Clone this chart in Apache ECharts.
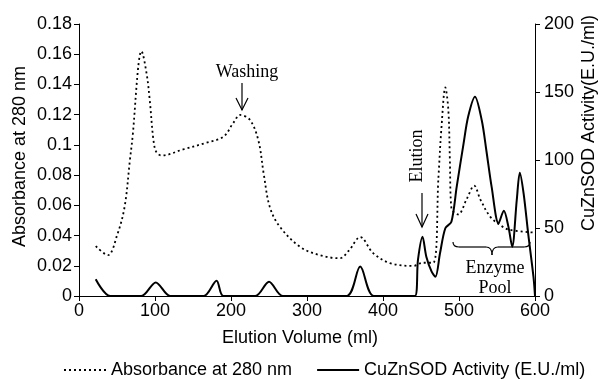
<!DOCTYPE html>
<html>
<head>
<meta charset="utf-8">
<script src="https://cdn.jsdelivr.net/npm/echarts@6/dist/echarts.min.js"></script>
<style>
  html, body { margin: 0; padding: 0; background: #fff; }
  #chart { width: 600px; height: 379px; }
</style>
</head>
<body>
<div id="chart"></div>
<script>
// absorbance at 280 nm (left axis)
const absVolume = [22, 38, 50, 60, 67, 71, 78, 82, 89, 93, 98, 102, 109, 137, 168, 190, 203, 212, 225, 236, 243, 251, 264, 291, 317, 343, 355, 370, 387, 409, 440, 452, 466, 473, 477, 482, 486, 488, 490, 499, 510, 520, 528, 541, 554, 565, 598];
const absValue = [0.033, 0.027, 0.040, 0.059, 0.090, 0.108, 0.152, 0.162, 0.147, 0.130, 0.103, 0.095, 0.093, 0.097, 0.1015, 0.1054, 0.1145, 0.1198, 0.1165, 0.103, 0.081, 0.059, 0.046, 0.0325, 0.027, 0.025, 0.030, 0.039, 0.0284, 0.0218, 0.0199, 0.022, 0.022, 0.079, 0.112, 0.138, 0.123, 0.090, 0.058, 0.054, 0.064, 0.073, 0.064, 0.0525, 0.047, 0.044, 0.042];

// CuZnSOD activity (right axis)
const actVolume = [22, 41, 82, 101, 120, 164, 181, 190, 232, 250, 268, 352, 370, 388, 442, 446, 452, 457, 464, 469, 475, 482, 490, 497, 506, 512, 521, 530, 536, 543, 552, 559, 565, 570, 576, 580, 585, 591, 598, 600];
const actValue = [12.3, 0, 0, 10, 0, 0, 11.3, 0, 0, 10.5, 0, 0, 21.6, 0, 0, 26.5, 43.6, 28.9, 17.9, 14.2, 31.4, 49.8, 54.6, 80.4, 112, 131.8, 146.5, 129, 107, 80, 53.4, 62.7, 51, 36.3, 70.6, 90.7, 75.5, 46, 14, 0];

const xTicks = [0, 100, 200, 300, 400, 500, 600];
const absTicks = [0, 0.02, 0.04, 0.06, 0.08, 0.1, 0.12, 0.14, 0.16, 0.18];
const actTicks = [0, 50, 100, 150, 200];

const sans = 'Liberation Sans, Arial, sans-serif';
const serif = 'Liberation Serif, Times New Roman, serif';

const zip = (xs, ys) => xs.map((x, i) => [x, ys[i]]);

const chart = echarts.init(document.getElementById('chart'));

const axisCommon = {
  axisLine: { show: true, lineStyle: { color: '#000', width: 1 } },
  axisTick: { show: true, length: 5, lineStyle: { color: '#000' } },
  splitLine: { show: false },
  nameMoveOverlap: false,
};

const stroke = { stroke: '#000', lineWidth: 1.2, fill: null };
const curve = (x1, y1, cx, cy, x2, y2) => ({ type: 'bezierCurve', shape: { x1, y1, cpx1: cx, cpy1: cy, x2, y2 }, style: stroke });
const seg = (x1, y1, x2, y2) => ({ type: 'line', shape: { x1, y1, x2, y2 }, style: stroke });

chart.setOption({
  animation: false,
  backgroundColor: '#fff',
  grid: { left: 79, right: 65, top: 24, bottom: 83, outerBoundsMode: 'none' },
  legend: {
    left: 58,
    top: 356,
    itemWidth: 42,
    itemHeight: 14,
    itemGap: 24,
    itemStyle: { opacity: 0 },
    textStyle: { fontFamily: sans, fontSize: 18, color: '#000' },
    data: ['Absorbance at 280 nm', 'CuZnSOD Activity (E.U./ml)'],
  },
  xAxis: {
    type: 'value',
    min: xTicks[0],
    max: xTicks[xTicks.length - 1],
    interval: 100,
    name: 'Elution Volume (ml)',
    nameLocation: 'middle',
    nameGap: 33,
    nameTextStyle: { fontFamily: sans, fontSize: 18, color: '#000', padding: [0, 14, 0, 0] },
    axisLabel: { fontFamily: sans, fontSize: 18, color: '#000', margin: 6 },
    ...axisCommon,
  },
  yAxis: [
    {
      type: 'value',
      min: absTicks[0],
      max: absTicks[absTicks.length - 1],
      interval: 0.02,
      name: 'Absorbance at 280 nm',
      nameLocation: 'middle',
      nameRotate: 90,
      nameGap: 50,
      nameTextStyle: { fontFamily: sans, fontSize: 18, color: '#000', padding: [0, 0, 0, 7] },
      axisLabel: { fontFamily: sans, fontSize: 18, color: '#000', margin: 7 },
      ...axisCommon,
    },
    {
      type: 'value',
      position: 'right',
      min: actTicks[0],
      max: actTicks[actTicks.length - 1],
      interval: 50,
      name: 'CuZnSOD Activity(E.U./ml)',
      nameLocation: 'middle',
      nameRotate: 90,
      nameGap: 45,
      nameTextStyle: { fontFamily: sans, fontSize: 18, color: '#000', padding: [0, 0, 0, 74] },
      axisLabel: { fontFamily: sans, fontSize: 18, color: '#000', margin: 9 },
      ...axisCommon,
    },
  ],
  series: [
    {
      name: 'Absorbance at 280 nm',
      type: 'line',
      yAxisIndex: 0,
      data: zip(absVolume, absValue),
      smooth: 0.35,
      symbol: 'none',
      lineStyle: { color: '#000', width: 1.8, type: [2, 3] },
      itemStyle: { color: '#000' },
    },
    {
      name: 'CuZnSOD Activity (E.U./ml)',
      type: 'line',
      yAxisIndex: 1,
      data: zip(actVolume, actValue),
      smooth: 0.3,
      symbol: 'none',
      lineStyle: { color: '#000', width: 2 },
      itemStyle: { color: '#000' },
    },
  ],
  graphic: [
    // Washing
    { type: 'text', x: 247, y: 72, style: { text: 'Washing', font: '18px ' + serif, fill: '#000', align: 'center', verticalAlign: 'middle' } },
    seg(242, 83, 242, 110),
    { type: 'polyline', shape: { points: [[236, 98], [242, 110], [248, 98]] }, style: stroke },
    // Elution
    { type: 'text', x: 417, y: 156, rotation: Math.PI / 2, style: { text: 'Elution', font: '18px ' + serif, fill: '#000', align: 'center', verticalAlign: 'middle' } },
    seg(422, 193, 422, 227),
    { type: 'polyline', shape: { points: [[416, 214], [422, 227], [428, 214]] }, style: stroke },
    // Enzyme pool brace
    curve(453, 242, 453, 247, 459, 247),
    seg(459, 247, 486, 247),
    curve(486, 247, 492, 247, 492, 255),
    curve(492, 255, 492, 247, 498, 247),
    seg(498, 247, 524, 247),
    curve(524, 247, 530, 247, 530, 242),
    { type: 'text', x: 495, y: 268, style: { text: 'Enzyme', font: '18px ' + serif, fill: '#000', align: 'center', verticalAlign: 'middle' } },
    { type: 'text', x: 495, y: 288, style: { text: 'Pool', font: '18px ' + serif, fill: '#000', align: 'center', verticalAlign: 'middle' } },
  ],
});
</script>
</body>
</html>
